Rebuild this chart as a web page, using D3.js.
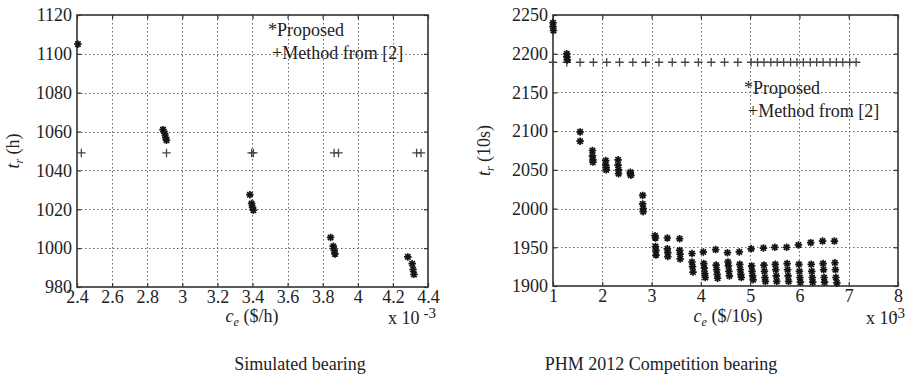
<!DOCTYPE html>
<html>
<head>
<meta charset="utf-8">
<script src="https://cdn.jsdelivr.net/npm/d3@7"></script>
<style>
	body { margin: 0; background: #fff; }
	svg { display: block; font-family: 'Liberation Serif', 'Times New Roman', serif; }
	.ax path { display: none; }
</style>
</head>
<body>
<svg id="viz" width="906" height="382"></svg>
<script>
// ---- simulated bearing (left) ----
var simXTicks = [ 2.4, 2.6, 2.8, 3, 3.2, 3.4, 3.6, 3.8, 4, 4.2, 4.4 ];
var simYTicks = [ 980, 1000, 1020, 1040, 1060, 1080, 1100, 1120 ];
var simProposed = [
	[ 2.405, 1105 ],
	[ 2.89, 1061 ], [ 2.90, 1059 ], [ 2.905, 1057 ], [ 2.91, 1055.5 ],
	[ 3.385, 1027.5 ], [ 3.395, 1023 ], [ 3.40, 1021 ], [ 3.405, 1019.5 ],
	[ 3.845, 1005.5 ], [ 3.86, 1001 ], [ 3.865, 999 ], [ 3.87, 997 ],
	[ 4.285, 995.5 ], [ 4.31, 992 ], [ 4.315, 989 ], [ 4.32, 986.5 ]
];
var simMethod = [
	[ 2.425, 1049 ], [ 2.91, 1049 ], [ 3.395, 1049 ], [ 3.405, 1049 ],
	[ 3.865, 1049 ], [ 3.89, 1049 ], [ 4.335, 1049 ], [ 4.36, 1049 ]
];

// ---- PHM 2012 competition bearing (right) ----
var phmXTicks = [ 1, 2, 3, 4, 5, 6, 7, 8 ];
var phmYTicks = [ 1900, 1950, 2000, 2050, 2100, 2150, 2200, 2250 ];
var phmProposed = [
	[ 1.00, 2240 ], [ 1.00, 2235 ], [ 1.01, 2230 ],
	[ 1.28, 2200 ], [ 1.28, 2196 ], [ 1.29, 2192 ],
	[ 1.55, 2099 ], [ 1.55, 2087 ],
	[ 1.80, 2075 ], [ 1.80, 2068 ], [ 1.81, 2063 ], [ 1.81, 2060 ],
	[ 2.07, 2062 ], [ 2.07, 2056 ], [ 2.08, 2053 ], [ 2.08, 2050 ],
	[ 2.32, 2063 ], [ 2.32, 2056 ], [ 2.33, 2050 ], [ 2.33, 2045 ],
	[ 2.57, 2047 ], [ 2.57, 2045 ], [ 2.58, 2043 ],
	[ 2.82, 2017 ], [ 2.82, 2006 ], [ 2.83, 2000 ], [ 2.83, 1996 ],
	[ 3.07, 1965 ], [ 3.08, 1962 ], [ 3.08, 1951 ], [ 3.09, 1946 ], [ 3.09, 1940 ],
	[ 3.32, 1962 ], [ 3.32, 1948 ], [ 3.33, 1943 ], [ 3.33, 1938 ],
	[ 3.57, 1961 ], [ 3.57, 1946 ], [ 3.58, 1941 ], [ 3.58, 1935 ],
	[ 3.82, 1942 ], [ 3.82, 1931 ], [ 3.83, 1925 ], [ 3.84, 1918 ],
	[ 4.05, 1944 ], [ 4.06, 1929 ], [ 4.07, 1923 ], [ 4.08, 1916 ], [ 4.09, 1911 ],
	[ 4.30, 1947 ], [ 4.31, 1927 ], [ 4.32, 1921 ], [ 4.33, 1915 ], [ 4.34, 1910 ],
	[ 4.54, 1943 ], [ 4.55, 1931 ], [ 4.56, 1926 ], [ 4.57, 1919 ], [ 4.58, 1913 ],
	[ 4.78, 1944 ], [ 4.79, 1928 ], [ 4.80, 1921 ], [ 4.81, 1915 ], [ 4.82, 1911 ],
	[ 5.02, 1948 ], [ 5.03, 1926 ], [ 5.04, 1919 ], [ 5.05, 1913 ], [ 5.06, 1908 ],
	[ 5.27, 1949 ], [ 5.28, 1927 ], [ 5.29, 1919 ], [ 5.30, 1911 ], [ 5.31, 1906 ],
	[ 5.50, 1950 ], [ 5.51, 1928 ], [ 5.52, 1921 ], [ 5.53, 1913 ], [ 5.54, 1906 ],
	[ 5.74, 1950 ], [ 5.75, 1929 ], [ 5.76, 1921 ], [ 5.77, 1913 ], [ 5.78, 1906 ],
	[ 5.98, 1953 ], [ 5.99, 1928 ], [ 6.00, 1919 ], [ 6.01, 1911 ], [ 6.02, 1905 ],
	[ 6.23, 1956 ], [ 6.24, 1928 ], [ 6.25, 1919 ], [ 6.26, 1911 ], [ 6.27, 1905 ],
	[ 6.47, 1958 ], [ 6.48, 1929 ], [ 6.49, 1921 ], [ 6.50, 1911 ], [ 6.51, 1905 ],
	[ 6.71, 1958 ], [ 6.72, 1930 ], [ 6.73, 1921 ], [ 6.74, 1911 ], [ 6.76, 1904 ]
];
var phmMethod = [
	[ 1.00, 2189 ], [ 1.28, 2189 ], [ 1.55, 2189 ], [ 1.82, 2189 ], [ 2.09, 2189 ],
	[ 2.35, 2189 ], [ 2.62, 2189 ], [ 2.88, 2189 ], [ 3.15, 2189 ], [ 3.42, 2189 ],
	[ 3.68, 2189 ], [ 3.95, 2189 ], [ 4.21, 2189 ], [ 4.48, 2189 ], [ 4.75, 2189 ],
	[ 5.02, 2189 ], [ 5.15, 2189 ], [ 5.28, 2189 ], [ 5.42, 2189 ], [ 5.55, 2189 ],
	[ 5.68, 2189 ], [ 5.82, 2189 ], [ 5.95, 2189 ], [ 6.08, 2189 ], [ 6.22, 2189 ],
	[ 6.35, 2189 ], [ 6.48, 2189 ], [ 6.62, 2189 ], [ 6.75, 2189 ], [ 6.88, 2189 ],
	[ 7.02, 2189 ], [ 7.15, 2189 ]
];

var panels = [
	{
		xTicks: simXTicks, yTicks: simYTicks, proposed: simProposed, method: simMethod,
		left: 77, right: 428, top: 15, bottom: 287,
		yLabel: '(h)', xLabel: '($/h)', caption: 'Simulated bearing',
		yLabelX: 19, xLabelX: 252, expX: 388, expDx: 4, captionX: 300,
		legendX: 268, legendY: 36
	},
	{
		xTicks: phmXTicks, yTicks: phmYTicks, proposed: phmProposed, method: phmMethod,
		left: 553, right: 898, top: 15, bottom: 286,
		yLabel: '(10s)', xLabel: '($/10s)', caption: 'PHM 2012 Competition bearing',
		yLabelX: 490, xLabelX: 728, expX: 866, expDx: -5, captionX: 661,
		legendX: 744, legendY: 94
	}
];

var FONT = "'Liberation Serif', 'Times New Roman', serif";

// MATLAB style asterisk and plus markers
var asterisk = {
	draw: function ( ctx, size ) {
		var r = Math.sqrt( size ) / 2, d = r * 0.72;
		ctx.moveTo( -r, 0 ); ctx.lineTo( r, 0 );
		ctx.moveTo( 0, -r ); ctx.lineTo( 0, r );
		ctx.moveTo( -d, -d ); ctx.lineTo( d, d );
		ctx.moveTo( -d, d ); ctx.lineTo( d, -d );
	}
};
var plus = {
	draw: function ( ctx, size ) {
		var r = Math.sqrt( size ) / 2;
		ctx.moveTo( -r, 0 ); ctx.lineTo( r, 0 );
		ctx.moveTo( 0, -r ); ctx.lineTo( 0, r );
	}
};

var svg = d3.select( '#viz' );

function styleAxis( g ) {
	g.attr( 'font-family', FONT ).attr( 'font-size', 18 );
	g.selectAll( 'line' ).attr( 'stroke', '#333' ).attr( 'stroke-width', 1.2 );
	g.selectAll( 'text' ).attr( 'fill', '#222' );
}

panels.forEach( function ( p ) {

	var x = d3.scaleLinear()
		.domain( d3.extent( p.xTicks ) )
		.range( [ p.left, p.right ] );
	var y = d3.scaleLinear()
		.domain( d3.extent( p.yTicks ) )
		.range( [ p.bottom, p.top ] );
	var w = p.right - p.left, h = p.bottom - p.top;
	var fmtX = function ( d ) { return String( +d.toFixed( 1 ) ); };
	var fmtY = d3.format( 'd' );
	var snap = function ( v ) { return Math.round( v ) + 0.5; };

	// dotted grid
	var grid = svg.append( 'g' )
		.attr( 'stroke', '#666' )
		.attr( 'stroke-width', 1 )
		.attr( 'stroke-dasharray', '1.5,2.5' );
	grid.selectAll( 'line.vx' )
		.data( p.xTicks.slice( 1, -1 ) )
		.enter()
		.append( 'line' )
		.attr( 'class', 'vx' )
		.attr( 'x1', function ( d ) { return snap( x( d ) ); } )
		.attr( 'x2', function ( d ) { return snap( x( d ) ); } )
		.attr( 'y1', p.top ).attr( 'y2', p.bottom );
	grid.selectAll( 'line.hy' )
		.data( p.yTicks.slice( 1, -1 ) )
		.enter()
		.append( 'line' )
		.attr( 'class', 'hy' )
		.attr( 'y1', function ( d ) { return snap( y( d ) ); } )
		.attr( 'y2', function ( d ) { return snap( y( d ) ); } )
		.attr( 'x1', p.left ).attr( 'x2', p.right );

	// inward ticks on all four sides
	svg.append( 'g' ).attr( 'class', 'ax' )
		.attr( 'transform', 'translate(0,' + p.bottom + ')' )
		.call( d3.axisBottom( x ).tickValues( p.xTicks ).tickSizeInner( -4 ).tickSizeOuter( 0 ).tickPadding( 3 ).tickFormat( fmtX ) )
		.call( styleAxis );
	svg.append( 'g' ).attr( 'class', 'ax' )
		.attr( 'transform', 'translate(0,' + p.top + ')' )
		.call( d3.axisTop( x ).tickValues( p.xTicks ).tickSizeInner( -4 ).tickSizeOuter( 0 ).tickFormat( '' ) )
		.call( styleAxis );
	svg.append( 'g' ).attr( 'class', 'ax' )
		.attr( 'transform', 'translate(' + p.left + ',0)' )
		.call( d3.axisLeft( y ).tickValues( p.yTicks ).tickSizeInner( -4 ).tickSizeOuter( 0 ).tickPadding( 5 ).tickFormat( fmtY ) )
		.call( styleAxis );
	svg.append( 'g' ).attr( 'class', 'ax' )
		.attr( 'transform', 'translate(' + p.right + ',0)' )
		.call( d3.axisRight( y ).tickValues( p.yTicks ).tickSizeInner( -4 ).tickSizeOuter( 0 ).tickFormat( '' ) )
		.call( styleAxis );

	svg.append( 'rect' )
		.attr( 'x', p.left ).attr( 'y', p.top )
		.attr( 'width', w ).attr( 'height', h )
		.attr( 'fill', 'none' ).attr( 'stroke', '#333' ).attr( 'stroke-width', 1.6 );

	// method from [2]
	svg.append( 'g' ).selectAll( 'path' )
		.data( p.method )
		.enter()
		.append( 'path' )
		.attr( 'transform', function ( d ) { return 'translate(' + x( d[0] ) + ',' + y( d[1] ) + ')'; } )
		.attr( 'd', d3.symbol( plus, 72 ) )
		.attr( 'fill', 'none' ).attr( 'stroke', '#444' ).attr( 'stroke-width', 1.3 );

	// proposed
	svg.append( 'g' ).selectAll( 'path' )
		.data( p.proposed )
		.enter()
		.append( 'path' )
		.attr( 'transform', function ( d ) { return 'translate(' + x( d[0] ) + ',' + y( d[1] ) + ')'; } )
		.attr( 'd', d3.symbol( asterisk, 56 ) )
		.attr( 'fill', 'none' ).attr( 'stroke', '#151515' ).attr( 'stroke-width', 1.7 );

	// text legend
	svg.append( 'text' )
		.attr( 'x', p.legendX ).attr( 'y', p.legendY )
		.attr( 'font-size', 18 ).attr( 'fill', '#222' )
		.text( '*Proposed' );
	svg.append( 'text' )
		.attr( 'x', p.legendX + 4 ).attr( 'y', p.legendY + 23 )
		.attr( 'font-size', 18 ).attr( 'fill', '#222' )
		.text( '+Method from [2]' );

	// y label  t_r (...)
	var yl = svg.append( 'text' )
		.attr( 'transform', 'translate(' + p.yLabelX + ',' + ( ( p.top + p.bottom ) / 2 ) + ') rotate(-90)' )
		.attr( 'text-anchor', 'middle' )
		.attr( 'font-size', 18 ).attr( 'fill', '#222' );
	yl.append( 'tspan' ).attr( 'font-style', 'italic' ).text( 't' );
	yl.append( 'tspan' ).attr( 'font-style', 'italic' ).attr( 'font-size', 12 ).attr( 'dy', 4 ).text( 'r' );
	yl.append( 'tspan' ).attr( 'dy', -4 ).text( ' ' + p.yLabel );

	// x label  c_e (...)
	var xl = svg.append( 'text' )
		.attr( 'x', p.xLabelX ).attr( 'y', 322 )
		.attr( 'text-anchor', 'middle' )
		.attr( 'font-size', 18 ).attr( 'fill', '#222' );
	xl.append( 'tspan' ).attr( 'font-style', 'italic' ).text( 'c' );
	xl.append( 'tspan' ).attr( 'font-style', 'italic' ).attr( 'font-size', 12 ).attr( 'dy', 4 ).text( 'e' );
	xl.append( 'tspan' ).attr( 'dy', -4 ).text( ' ' + p.xLabel );

	// exponent  x 10^-3
	var ex = svg.append( 'text' )
		.attr( 'x', p.expX ).attr( 'y', 324 )
		.attr( 'font-size', 18 ).attr( 'fill', '#222' );
	ex.append( 'tspan' ).text( 'x 10' );
	ex.append( 'tspan' ).attr( 'dy', -6 ).attr( 'dx', p.expDx ).attr( 'font-size', 15 ).text( '-3' );

	// caption
	svg.append( 'text' )
		.attr( 'x', p.captionX ).attr( 'y', 370 )
		.attr( 'text-anchor', 'middle' )
		.attr( 'font-size', 18 ).attr( 'fill', '#222' )
		.text( p.caption );

} );
</script>
</body>
</html>
